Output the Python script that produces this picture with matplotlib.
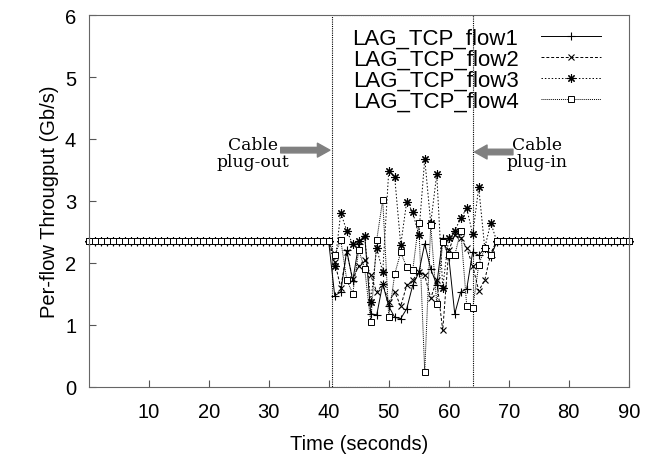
import numpy as np
import matplotlib.pyplot as plt
from matplotlib.patches import Rectangle

plt.rcParams['font.family'] = ['Liberation Sans', 'DejaVu Sans']

# -- time axis: one sample per second
time = np.arange(0, 91)

# steady state throughput for each flow (Gb/s), before and after the cable event
steady = {'flow1': 2.34, 'flow2': 2.36, 'flow3': 2.35, 'flow4': 2.35}

# disturbed interval, t = 41 .. 67 s
t_event = np.arange(41, 68)
flow1_event = [1.47, 1.53, 2.20, 1.71, 2.30, 2.44, 1.18, 1.16, 1.66, 1.30, 1.12, 1.10, 1.26, 1.64,
               1.84, 2.31, 1.90, 1.65, 2.40, 2.10, 1.18, 1.53, 1.58, 2.18, 2.12, 2.24, 2.10]
flow2_event = [2.02, 1.60, 2.17, 1.74, 1.95, 2.05, 1.80, 1.53, 1.66, 1.37, 1.53, 1.30, 1.64, 1.72,
               1.86, 1.80, 1.43, 1.72, 0.91, 2.20, 2.45, 2.40, 2.24, 1.95, 1.55, 1.72, 2.15]
flow3_event = [1.95, 2.81, 2.52, 2.30, 2.35, 2.44, 1.37, 2.24, 1.85, 3.48, 3.38, 2.29, 2.99, 2.82,
               2.45, 3.68, 2.64, 3.43, 1.60, 2.40, 2.52, 2.72, 2.88, 2.46, 3.22, 2.24, 2.65]
flow4_event = [2.12, 2.37, 1.73, 1.50, 2.21, 1.90, 1.05, 2.37, 3.02, 1.13, 1.82, 2.17, 1.93, 1.88,
               2.65, 0.24, 2.61, 1.34, 2.33, 2.12, 2.12, 2.52, 1.31, 1.27, 1.97, 2.24, 2.12]

labels = ['LAG_TCP_flow1', 'LAG_TCP_flow2', 'LAG_TCP_flow3', 'LAG_TCP_flow4']
events = [flow1_event, flow2_event, flow3_event, flow4_event]
levels = [steady['flow1'], steady['flow2'], steady['flow3'], steady['flow4']]

# plug-out / plug-in window
win_start, win_end = 40.6, 64.0

styles = [dict(ls='-', marker='+', ms=6, mew=0.8),
          dict(ls=(0, (3, 2)), marker='x', ms=4.5, mew=0.8),
          dict(ls=(0, (1.5, 2)), marker=(8, 2, 0), ms=6, mew=0.8),
          dict(ls=(0, (1, 1)), marker='s', ms=5, mew=0.7, mfc='white')]

fig = plt.figure(figsize=(6.57, 4.60), dpi=100)
ax = fig.add_axes([0.135, 0.157, 0.822, 0.808])

for lab, ev, lev, st in zip(labels, events, levels, styles):
    y = np.full(time.shape, lev)
    y[41:68] = ev
    ax.plot(time, y, color='black', lw=0.7, label=lab, clip_on=False, **st)

ax.add_patch(Rectangle((win_start, 0), win_end - win_start, 6, fill=False,
                       ls=(0, (1, 1)), lw=0.8, ec='black'))

arrow = dict(facecolor='#808080', edgecolor='#808080', width=4, headwidth=10,
             headlength=9, shrink=0)
ax.annotate('', xy=(40.2, 3.82), xytext=(32.0, 3.82), arrowprops=arrow)
ax.annotate('', xy=(64.3, 3.79), xytext=(70.7, 3.79), arrowprops=arrow)
ax.text(27.3, 3.77, 'Cable\nplug-out', ha='center', va='center', fontsize=12.3,
        family='DejaVu Serif', linespacing=1.0)
ax.text(74.7, 3.77, 'Cable\nplug-in', ha='center', va='center', fontsize=12.3,
        family='DejaVu Serif', linespacing=1.0)

ax.set_xlim(0, 90)
ax.set_ylim(0, 6)
ax.set_xticks(np.arange(10, 91, 10))
ax.set_yticks(np.arange(0, 7, 1))
ax.tick_params(direction='in', length=5, labelsize=14.5, color='#555555')
ax.tick_params(axis='x', pad=11)
ax.tick_params(axis='y', pad=9)
for sp in ax.spines.values():
    sp.set_color('#666666')
ax.set_xlabel('Time (seconds)', fontsize=14.5, labelpad=9)
ax.set_ylabel('Per-flow Througput (Gb/s)', fontsize=14.5)

ax.legend(loc='upper right', bbox_to_anchor=(0.985, 1.02), frameon=False, markerfirst=False,
          fontsize=16, handlelength=2.7, labelspacing=0.0, handletextpad=1.0, numpoints=1)

fig.savefig('out.png', dpi=100)
